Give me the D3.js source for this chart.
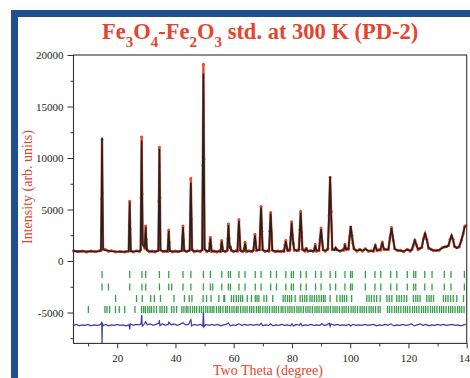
<!doctype html>
<html>
<head>
<meta charset="utf-8">
<script src="https://d3js.org/d3.v7.min.js"></script>
<title>Fe3O4-Fe2O3 PD-2</title>
<style>
    body { margin: 0; background: #fff; }
    svg { display: block; }
    .tick text { font-family: "Liberation Serif", serif; font-size: 11px; fill: #222; }
    .tick line { stroke: #333; }
</style>
</head>
<body>
<svg id="chart"></svg>
<script>
// two theta (deg), intensity
const calc = [
[5,960],[6.5,930],[8,950],[9.5,910],[11,940],[12.5,920],[13.8,950],
[14.45,1000],[14.65,6300],[14.8,12000],[14.95,6300],[15.15,1100],
[16,1050],[17,1000],[18,950],[19.5,920],[21,900],[22.5,910],
[23.95,930],[24.13,3300],[24.3,5700],[24.47,3300],[24.65,940],
[25.5,920],[26.6,950],[27.6,960],
[28.05,1050],[28.23,6400],[28.4,11700],[28.57,6300],[28.75,1600],
[29.45,1300],[29.63,2300],[29.8,3300],[29.97,2200],[30.2,1050],
[31,940],[32,920],[33,930],[33.8,960],
[34.15,1000],[34.33,6000],[34.5,10900],[34.67,6000],[34.85,1050],
[35.8,940],[36.8,930],
[37.35,970],[37.53,1950],[37.7,2900],[37.87,1950],[38.05,980],
[39,930],[40,920],[41,930],
[42.2,980],[42.4,2150],[42.6,3300],[42.8,2150],[43.0,990],
[43.8,950],
[44.9,1020],[45.1,4300],[45.3,7600],[45.5,4300],[45.7,1050],
[46.5,950],[47.5,940],[48.5,970],
[49.2,1050],[49.4,9600],[49.6,18200],[49.8,9600],[50.0,1150],
[50.8,960],
[51.6,970],[51.8,1600],[52.0,2200],[52.2,1600],[52.4,980],
[53.2,930],[54.2,920],[55.1,940],
[55.5,950],[55.7,1450],[55.9,1900],[56.1,1450],[56.3,960],
[57.1,950],
[57.8,1000],[58.0,2250],[58.2,3500],[58.4,2300],[58.6,1300],[58.9,1400],[59.2,1000],
[60.0,950],[60.8,960],
[61.3,1000],[61.55,2450],[61.8,3900],[62.05,2450],[62.3,1000],
[63.1,950],
[63.45,960],[63.7,1350],[63.9,1700],[64.1,1350],[64.35,960],
[65.2,940],[66.2,960],
[66.75,1000],[67.05,1750],[67.3,2500],[67.55,1750],[67.85,1050],
[68.85,1050],[69.12,3100],[69.4,5200],[69.68,3100],[69.95,1050],
[70.8,970],[71.7,960],
[72.15,1000],[72.42,2800],[72.7,4600],[72.98,2800],[73.25,1020],
[74.2,950],[75.2,930],[76.2,940],[77.1,960],
[77.3,980],[77.6,1450],[77.9,1900],[78.2,1450],[78.5,1000],
[79.1,1050],
[79.3,1100],[79.6,2400],[79.9,3700],[80.2,2400],[80.5,1600],[80.8,1100],
[81.6,1000],[82.2,1050],
[82.4,1100],[82.7,2900],[83.0,4700],[83.3,2900],[83.6,1100],
[84.4,1000],[84.9,1200],[85.4,1000],[86.4,960],[87.3,980],
[87.6,1000],[88.0,1500],[88.4,1000],
[88.9,1000],
[89.3,1050],[89.65,2050],[90.0,3100],[90.35,2050],[90.7,1050],
[91.5,1000],[92.2,1100],
[92.35,1150],[92.75,4600],[93.1,8200],[93.45,4600],[93.85,1150],
[94.6,1050],[95.0,1300],[95.5,1050],[96.5,1000],[97.5,1050],
[97.8,1100],[98.2,1500],[98.6,1150],
[99.3,1150],
[99.4,1200],[99.8,2300],[100.2,3400],[100.6,2400],[100.9,1800],[101.3,1150],
[102.3,1000],[103.3,1100],[104.2,1000],[105.2,1150],[106.2,1000],[107.2,950],
[108.0,1000],[108.6,1500],[109.2,1050],
[109.9,1050],
[110.4,1100],[111.0,1800],[111.6,1150],
[112.5,1100],
[113.1,1150],[113.65,2150],[114.2,3200],[114.75,2150],[115.3,1150],
[116.3,1050],[117.3,1000],[118.3,950],[119.6,1100],[120.6,1000],
[121.2,1100],[121.6,1500],[122.2,2000],[122.8,1500],[123.3,1150],
[124.0,1200],
[124.6,1350],[125.1,2050],[125.7,2700],[126.3,2050],[126.9,1300],
[127.8,1100],[128.6,1050],[129.6,1000],[130.6,1100],[131.6,1250],[132.3,1400],[133.0,1350],
[133.8,1550],[134.3,2050],[134.8,2500],[135.3,2050],[135.8,1450],
[136.6,1250],[137.4,1400],[138.2,2000],[138.8,2700],[139.3,3300],[139.7,3400]
];

const obs = [
[5,1000],[6.5,890],[8,980],[9.5,880],[11,980],[12.5,890],[13.8,990],
[14.45,1050],[14.65,6000],[14.8,11800],[14.95,6600],[15.15,1200],
[16,1100],[17,950],[18,1000],[19.5,880],[21,940],[22.5,870],
[23.95,980],[24.13,3500],[24.3,5800],[24.47,3100],[24.65,990],
[25.5,880],[26.6,990],[27.6,920],
[28.05,1100],[28.23,6200],[28.4,12050],[28.57,6500],[28.75,1700],
[29.45,1250],[29.63,2400],[29.8,3400],[29.97,2100],[30.2,1100],
[31,900],[32,970],[33,880],[33.8,1000],
[34.15,1050],[34.33,5800],[34.5,11050],[34.67,6200],[34.85,1100],
[35.8,900],[36.8,980],
[37.35,930],[37.53,2050],[37.7,3000],[37.87,1850],[38.05,1030],
[39,880],[40,970],[41,890],
[42.2,1030],[42.4,2250],[42.6,3400],[42.8,2050],[43.0,1040],
[43.8,900],
[44.9,1070],[45.1,4500],[45.3,8000],[45.5,4100],[45.7,1100],
[46.5,900],[47.5,990],[48.5,920],
[49.2,1100],[49.4,9300],[49.6,19100],[49.8,9900],[50.0,1200],
[50.8,910],
[51.6,1020],[51.8,1700],[52.0,2300],[52.2,1500],[52.4,930],
[53.2,980],[54.2,870],[55.1,990],
[55.5,900],[55.7,1550],[55.9,2000],[56.1,1350],[56.3,1010],
[57.1,900],
[57.8,1050],[58.0,2150],[58.2,3600],[58.4,2200],[58.6,1400],[58.9,1300],[59.2,1050],
[60.0,900],[60.8,1010],
[61.3,950],[61.55,2550],[61.8,4000],[62.05,2350],[62.3,1050],
[63.1,900],
[63.45,1010],[63.7,1250],[63.9,1800],[64.1,1450],[64.35,910],
[65.2,990],[66.2,910],
[66.75,1050],[67.05,1650],[67.3,2600],[67.55,1850],[67.85,1000],
[68.85,1100],[69.12,3300],[69.4,5300],[69.68,2900],[69.95,1100],
[70.8,920],[71.7,1010],
[72.15,950],[72.42,2900],[72.7,4700],[72.98,2700],[73.25,1070],
[74.2,900],[75.2,980],[76.2,890],[77.1,1010],
[77.3,930],[77.6,1550],[77.9,2000],[78.2,1350],[78.5,1050],
[79.1,1000],
[79.3,1150],[79.6,2300],[79.9,3800],[80.2,2500],[80.5,1700],[80.8,1050],
[81.6,1050],[82.2,1000],
[82.4,1150],[82.7,3000],[83.0,4800],[83.3,2800],[83.6,1150],
[84.4,950],[84.9,1250],[85.4,950],[86.4,1010],[87.3,930],
[87.6,1050],[88.0,1600],[88.4,950],
[88.9,1050],
[89.3,1000],[89.65,2150],[90.0,3200],[90.35,1950],[90.7,1100],
[91.5,950],[92.2,1150],
[92.35,1200],[92.75,4400],[93.1,8100],[93.45,4800],[93.85,1100],
[94.6,1100],[95.0,1250],[95.5,1100],[96.5,950],[97.5,1100],
[97.8,1050],[98.2,1600],[98.6,1100],
[99.3,1200],
[99.4,1150],[99.8,2400],[100.2,3300],[100.6,2500],[100.9,1750],[101.3,1200],
[102.3,950],[103.3,1150],[104.2,950],[105.2,1200],[106.2,950],[107.2,1000],
[108.0,950],[108.6,1550],[109.2,1000],
[109.9,1100],
[110.4,1050],[111.0,1850],[111.6,1100],
[112.5,1150],
[113.1,1100],[113.65,2250],[114.2,3250],[114.75,2050],[115.3,1200],
[116.3,1000],[117.3,1050],[118.3,900],[119.6,1150],[120.6,950],
[121.2,1150],[121.6,1450],[122.2,2050],[122.8,1550],[123.3,1100],
[124.0,1250],
[124.6,1300],[125.1,2150],[125.7,2650],[126.3,2100],[126.9,1250],
[127.8,1150],[128.6,1000],[129.6,1050],[130.6,1050],[131.6,1300],[132.3,1350],[133.0,1400],
[133.8,1500],[134.3,2100],[134.8,2450],[135.3,2100],[135.8,1400],
[136.6,1300],[137.4,1350],[138.2,2050],[138.8,2650],[139.3,3350],[139.7,3450]
];

// obs - calc, plotted with offset
const diff = [
[5,-6250],[6,-6150],[7,-6300],[8,-6200],[9,-6250],[10,-6150],[11,-6300],[12,-6200],[13,-6250],[14,-6200],
[14.5,-6100],[14.7,-5900],[14.8,-8000],[14.9,-6000],[15.2,-6300],[16,-6150],[17,-6300],[18,-6200],[19,-6250],
[20,-6150],[21,-6250],[22,-6200],[23,-6300],[24.1,-6200],[24.3,-6650],[24.5,-6100],[25.5,-6250],[26.5,-6150],
[27.5,-6200],[28.2,-6100],[28.4,-5250],[28.6,-6300],[29.2,-6150],[29.8,-5900],[30.3,-6200],[31.3,-6100],
[32.3,-6250],[33.3,-6150],[34.3,-6050],[34.5,-5750],[34.7,-6300],[35.5,-6100],[36.5,-6250],[37.5,-6150],
[37.7,-5950],[38.5,-6200],[39.5,-6100],[40.5,-6250],[41.5,-6150],[42.6,-6000],[43.5,-6200],[44.5,-6150],
[45.3,-5700],[45.6,-6300],[46.5,-6150],[47.5,-6250],[48.5,-6150],[49.4,-6300],[49.6,-4950],[49.8,-6400],
[50.5,-6150],[51.5,-6250],[52.5,-6150],[53.5,-6250],[54.5,-6150],[55.5,-6300],[56.5,-6200],[57.5,-6150],
[58.2,-6000],[58.8,-6300],[59.8,-6200],[60.8,-6250],[61.8,-6100],[62.8,-6250],[63.8,-6150],[64.8,-6250],
[65.8,-6150],[66.8,-6250],[67.8,-6150],[68.8,-6250],[69.4,-6050],[70,-6300],[71,-6200],[72,-6250],
[72.7,-6100],[73.5,-6300],[74.5,-6200],[75.5,-6250],[76.5,-6150],[77.5,-6250],[78.5,-6200],[79.5,-6300],
[80,-6100],[80.5,-6300],[81.5,-6150],[82.5,-6250],[83,-6050],[83.5,-6300],[84.5,-6200],[85.5,-6250],
[86.5,-6150],[87.5,-6250],[88.5,-6200],[89.5,-6250],[90.3,-6100],[91,-6250],[92,-6200],[92.8,-6050],
[93.1,-6350],[93.4,-6100],[94.5,-6250],[95.5,-6150],[96.5,-6250],[97.5,-6200],[98.5,-6250],[99.5,-6150],
[100.2,-6300],[101,-6150],[102,-6250],[103,-6200],[104,-6250],[105,-6150],[106,-6250],[107,-6200],
[108,-6150],[109,-6300],[110,-6200],[111,-6250],[112,-6150],[113,-6250],[114,-6100],[115,-6300],
[116,-6200],[117,-6250],[118,-6150],[119,-6250],[120,-6200],[121,-6100],[122,-6300],[123,-6200],
[124,-6100],[125,-6250],[126,-6150],[127,-6300],[128,-6200],[129,-6250],[130,-6150],[131,-6250],
[132,-6150],[133,-6250],[134,-6200],[135,-6150],[136,-6250],[137,-6200],[138,-6300],[139,-6200],[139.7,-6150]
];

// Bragg positions, four phases
const braggFe3O4 = [14.8,24.3,28.5,29.8,34.5,37.7,42.6,45.3,49.6,52.0,55.9,58.2,58.9,61.8,63.9,67.4,69.4,72.7,74.7,
    77.9,79.8,80.5,83.0,84.9,88.1,90.0,93.1,95.0,98.2,100.1,100.7,105.2,108.5,110.5,113.9,116.0,119.6,121.8,
    122.5,125.6,128.1,132.3,134.6,139.2];
const braggFe3O4mag = [14.8,17.0,24.3,28.5,29.8,34.5,37.7,38.7,42.6,45.3,49.6,52.0,52.8,55.9,58.2,58.9,61.8,63.9,
    67.4,69.4,72.7,74.7,77.9,79.8,80.5,83.0,84.9,88.1,90.0,93.1,95.0,98.2,100.1,100.7,105.2,108.5,110.5,113.9,
    116.0,119.6,121.8,122.5,125.6,128.1,132.3,134.6,139.2];
const braggFe2O3 = [19.45,26.64,28.6,31.5,32.75,34.86,39.51,43.09,44.73,45.66,49.5,50.68,52.22,54.9,56.64,56.88,
    59.22,60.0,60.9,61.66,62.4,63.07,64.67,66.08,67.4,68.0,68.64,70.4,71.3,73.4,77.0,77.7,78.5,79.2,79.9,81.1,
    82.8,83.6,84.4,85.1,86.2,86.9,87.7,88.5,89.3,90.1,90.8,91.4,93.1,95.4,96.5,97.3,98.0,98.8,100.5,105.7,106.5,
    107.3,108.2,109.1,110.3,112.6,113.4,114.3,116.0,116.8,117.6,118.5,119.4,121.7,122.5,123.2,124.0,126.3,127.1,
    127.8,128.6,132.0,132.8,133.6,134.5,135.4,136.6,138.9];
const braggFe2O3mag = [10.1,15.8,16.5,17.4,19.4,20.7,22.6,26.1,28.4,29.1,29.7,30.5,31.2,31.8,32.6,33.5,34.7,35.4,
    36.2,37.0,38.7,39.5,40.4,42.2,42.9,43.7,44.3,45.1,45.9,46.6,47.3,48.2,48.9,49.6,50.4,51.1,51.9,52.6,53.2,54.1,
    54.9,55.5,56.3,57.2,57.8,58.6,59.4,60.1,60.9,61.5,62.4,63.2,63.9,64.6,65.5,66.2,66.9,67.8,68.5,69.1,70.0,70.8,
    71.5,72.3,73.2,73.9,74.6,75.4,76.3,76.9,77.7,78.6,79.3,80.0,80.8,81.7,82.4,83.1,83.9,84.8,85.5,86.2,87.0,87.9,
    88.6,89.3,90.1,91.0,91.7,92.4,93.2,94.1,94.8,95.5,96.3,97.2,97.9,98.6,99.4,100.3,101.0,101.7,102.5,103.4,
    104.1,104.8,105.6,106.5,107.2,107.9,108.7,109.6,110.3,112.8,113.5,114.3,115.2,115.9,116.6,117.4,118.3,119.0,
    119.7,120.5,121.4,122.1,122.8,123.6,124.5,125.2,125.9,126.7,127.6,128.3,129.0,129.8,130.7,131.4,132.1,132.9,
    133.8,134.5,135.2,136.0,136.9,137.6,138.3,139.1];
const braggRows = [braggFe3O4, braggFe3O4mag, braggFe2O3, braggFe2O3mag];
const braggLevels = [-1310, -2520, -3640, -4710];

const xMajor = [20, 40, 60, 80, 100, 120, 140];
const xMinor = [10, 30, 50, 70, 90, 110, 130];
const yMajor = [-5000, 0, 5000, 10000, 15000, 20000];
const yMinor = [-7500, -2500, 2500, 7500, 12500, 17500];

const width = 470, height = 378;
const plot = { left: 73.5, right: 466.7, top: 55, bottom: 343.4 };
const red = "#e4452d";

const svg = d3.select("#chart").attr("width", width).attr("height", height);

// blue page frame
svg.append("rect").attr("x", 11).attr("y", 10).attr("width", width - 11).attr("height", 7).attr("fill", "#1f4f8f");
svg.append("rect").attr("x", 11).attr("y", 10).attr("width", 7).attr("height", height - 10).attr("fill", "#1f4f8f");

const x = d3.scaleLinear().domain([5, 140]).range([plot.left, plot.right]);
const y = d3.scaleLinear().domain([-8000, 20000]).range([plot.bottom, plot.top]);

// bragg ticks
braggRows.forEach((row, i) => {
    svg.append("g").selectAll("line")
        .data(row)
        .join("line")
        .attr("x1", d => x(d)).attr("x2", d => x(d))
        .attr("y1", y(braggLevels[i]) - 3.5)
        .attr("y2", y(braggLevels[i]) + 3.5)
        .attr("stroke", "#34a048")
        .attr("stroke-width", 1.3);
});

// difference
svg.append("path")
    .datum(diff)
    .attr("d", d3.line().x(d => x(d[0])).y(d => y(d[1])))
    .attr("fill", "none")
    .attr("stroke", "#3b3aa6")
    .attr("stroke-width", 1.2);

// observed
svg.append("path")
    .datum(obs)
    .attr("d", d3.line().x(d => x(d[0])).y(d => y(d[1])))
    .attr("fill", "none")
    .attr("stroke", "#ea4a30")
    .attr("stroke-width", 2.4)
    .attr("stroke-linejoin", "round");
svg.append("g").selectAll("circle")
    .data(obs)
    .join("circle")
    .attr("cx", d => x(d[0]))
    .attr("cy", d => y(d[1]))
    .attr("r", 1.5)
    .attr("fill", "#ea4a30");

// calculated
svg.append("path")
    .datum(calc)
    .attr("d", d3.line().x(d => x(d[0])).y(d => y(d[1])))
    .attr("fill", "none")
    .attr("stroke", "#222")
    .attr("stroke-width", 1.6);

// axes
svg.append("g").attr("transform", `translate(0,${plot.bottom})`)
    .call(d3.axisBottom(x).tickValues(xMajor).tickSize(5).tickPadding(6).tickFormat(d => d));
svg.append("g").attr("transform", `translate(0,${plot.bottom})`)
    .call(d3.axisBottom(x).tickValues(xMinor).tickSize(3).tickFormat(""));
svg.append("g").attr("transform", `translate(${plot.left},0)`)
    .call(d3.axisLeft(y).tickValues(yMajor).tickSize(6).tickPadding(4).tickFormat(d => String(d)));
svg.append("g").attr("transform", `translate(${plot.left},0)`)
    .call(d3.axisLeft(y).tickValues(yMinor).tickSize(3).tickFormat(""));
svg.selectAll(".domain").remove();

svg.append("rect")
    .attr("x", plot.left).attr("y", plot.top)
    .attr("width", plot.right - plot.left).attr("height", plot.bottom - plot.top)
    .attr("fill", "none").attr("stroke", "#333").attr("stroke-width", 1.1);

// title with subscripts
const title = svg.append("text")
    .attr("x", 102).attr("y", 39)
    .attr("font-family", "Liberation Serif, serif")
    .attr("font-weight", "bold")
    .attr("font-size", 22.5)
    .attr("fill", red);
[["Fe", 0], ["3", 1], ["O", 0], ["4", 1], ["-Fe", 0], ["2", 1], ["O", 0], ["3", 1], [" std. at 300 K (PD-2)", 0]]
    .forEach(([t, sub], i, arr) => {
        const prev = i > 0 ? arr[i - 1][1] : 0;
        title.append("tspan")
            .attr("dy", sub - prev === 1 ? 8 : sub - prev === -1 ? -8 : 0)
            .attr("font-size", sub ? 15 : 22.5)
            .text(t);
    });

svg.append("text")
    .attr("transform", `translate(32,187) rotate(-90)`)
    .attr("text-anchor", "middle")
    .attr("font-family", "Liberation Serif, serif")
    .attr("font-size", 14)
    .attr("fill", red)
    .text("Intensity (arb. units)");

svg.append("text")
    .attr("x", 268).attr("y", 375)
    .attr("text-anchor", "middle")
    .attr("font-family", "Liberation Serif, serif")
    .attr("font-size", 14)
    .attr("fill", red)
    .text("Two Theta (degree)");
</script>
</body>
</html>
